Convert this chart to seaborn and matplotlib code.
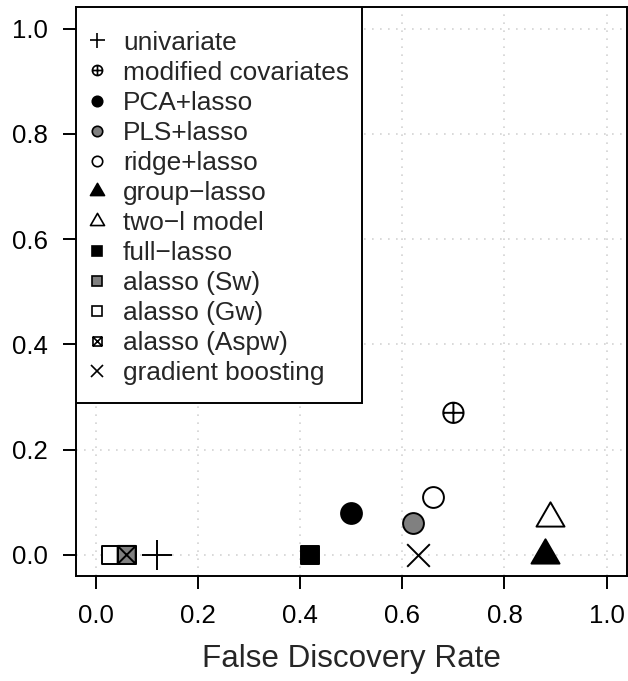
import numpy as np
import pandas as pd
import seaborn as sns
import matplotlib
matplotlib.use("Agg")
import matplotlib.pyplot as plt
from matplotlib.path import Path
from matplotlib.lines import Line2D
from matplotlib.patches import Rectangle

# data
methods = ["univariate", "modified covariates", "PCA+lasso", "PLS+lasso",
           "ridge+lasso", "group\u2212lasso", "two\u2212l model", "full\u2212lasso",
           "alasso (Sw)", "alasso (Gw)", "alasso (Aspw)", "gradient boosting"]
fdr = [0.12, 0.70, 0.50, 0.62, 0.66, 0.88, 0.89, 0.42, 0.06, 0.03, 0.06, 0.63]
yval = [0.00, 0.27, 0.08, 0.06, 0.11, 0.00, 0.07, 0.00, 0.00, 0.00, 0.00, 0.00]
ticks = [0.0, 0.2, 0.4, 0.6, 0.8, 1.0]

df = pd.DataFrame({"method": methods, "fdr": fdr, "y": yval})

# custom marker shapes (R pch 10, 2/17, 7)
oplus = Path.make_compound_path(
    Path.unit_circle(),
    Path([(-1, 0), (1, 0)], [Path.MOVETO, Path.LINETO]),
    Path([(0, -1), (0, 1)], [Path.MOVETO, Path.LINETO]))
tri = Path([(0, 2 / np.sqrt(3)), (-1, -1 / np.sqrt(3)), (1, -1 / np.sqrt(3)), (0, 0)],
           [Path.MOVETO, Path.LINETO, Path.LINETO, Path.CLOSEPOLY])
boxx = Path.make_compound_path(
    Path([(-1, -1), (1, -1), (1, 1), (-1, 1), (-1, -1)],
         [Path.MOVETO, Path.LINETO, Path.LINETO, Path.LINETO, Path.CLOSEPOLY]),
    Path([(-1, -1), (1, 1)], [Path.MOVETO, Path.LINETO]),
    Path([(-1, 1), (1, -1)], [Path.MOVETO, Path.LINETO]))

grey = "#808080"
# marker, face, size (pt)
styles = {
    "univariate": ("+", "black", 21.6),
    "modified covariates": (oplus, "none", 14.6),
    "PCA+lasso": ("o", "black", 15),
    "PLS+lasso": ("o", grey, 15),
    "ridge+lasso": ("o", "white", 15),
    "group\u2212lasso": (tri, "black", 23.3),
    "two\u2212l model": (tri, "white", 23.3),
    "full\u2212lasso": ("s", "black", 13),
    "alasso (Sw)": ("s", grey, 13),
    "alasso (Gw)": ("s", "white", 13),
    "alasso (Aspw)": (boxx, "none", 13),
    "gradient boosting": ("x", "black", 16.3),
}
line_markers = ("+", "x")
draw_order = [0, 1, 2, 3, 4, 5, 6, 7, 9, 8, 10, 11]

sns.set_style("ticks")
plt.rcParams["font.family"] = ["Liberation Sans", "DejaVu Sans"]

fig = plt.figure(figsize=(6.28, 6.81), dpi=100)
ax = fig.add_axes([0.1204, 0.1542, 0.878, 0.8348])

lw = 1.4
for i in draw_order:
    row = df.iloc[[i]]
    m, face, size = styles[row["method"].iloc[0]]
    kw = dict(color="black") if (isinstance(m, str) and m in line_markers) \
        else dict(facecolor=face, edgecolor="black")
    sns.scatterplot(data=row, x="fdr", y="y", ax=ax, marker=m, s=size ** 2,
                    linewidth=lw, zorder=3, legend=False, **kw)

ax.set_xlim(-0.04, 1.04)
ax.set_ylim(-0.04, 1.04)
ax.set_xticks(ticks)
ax.set_yticks(ticks)
ax.set_xticklabels([f"{t:.1f}" for t in ticks])
ax.set_yticklabels([f"{t:.1f}" for t in ticks])
ax.grid(True, color="#d3d3d3", linestyle=(0, (1, 3.8)), linewidth=1.2)
ax.set_axisbelow(True)
for sp in ax.spines.values():
    sp.set_visible(True)
    sp.set_color("black")
    sp.set_linewidth(lw)
ax.tick_params(direction="out", length=9.4, width=lw, pad=10.6,
               labelsize=18.6, colors="black")
ax.set_xlabel("False Discovery Rate", fontsize=22.6, labelpad=12)
ax.set_ylabel("")

handles = []
for name in methods:
    m, face, size = styles[name]
    handles.append(Line2D([], [], linestyle="none", marker=m, markersize=size * 0.5,
                          markerfacecolor=face, markeredgecolor="black",
                          markeredgewidth=1.2))

# legend box like R: extra top padding, frame drawn separately
vpad_top = 10  # px
vpad_bot = 5
ax_h_px = fig.bbox.height * ax.get_position().height
leg = ax.legend(handles, methods, loc="upper left",
                bbox_to_anchor=(0, 1 - vpad_top / ax_h_px),
                borderaxespad=0, fontsize=18.9, handlelength=0.6,
                handletextpad=0.7, borderpad=0.5, labelspacing=0.23,
                frameon=False)
leg.set_zorder(5)

fig.canvas.draw()
bb = leg.get_window_extent().transformed(ax.transAxes.inverted())
y0 = bb.y0 - vpad_bot / ax_h_px
frame = Rectangle((0, y0), bb.x1, 1 - y0, transform=ax.transAxes,
                  facecolor="white", edgecolor="black", linewidth=lw, zorder=4)
ax.add_patch(frame)

fig.savefig("out.png", dpi=100)
